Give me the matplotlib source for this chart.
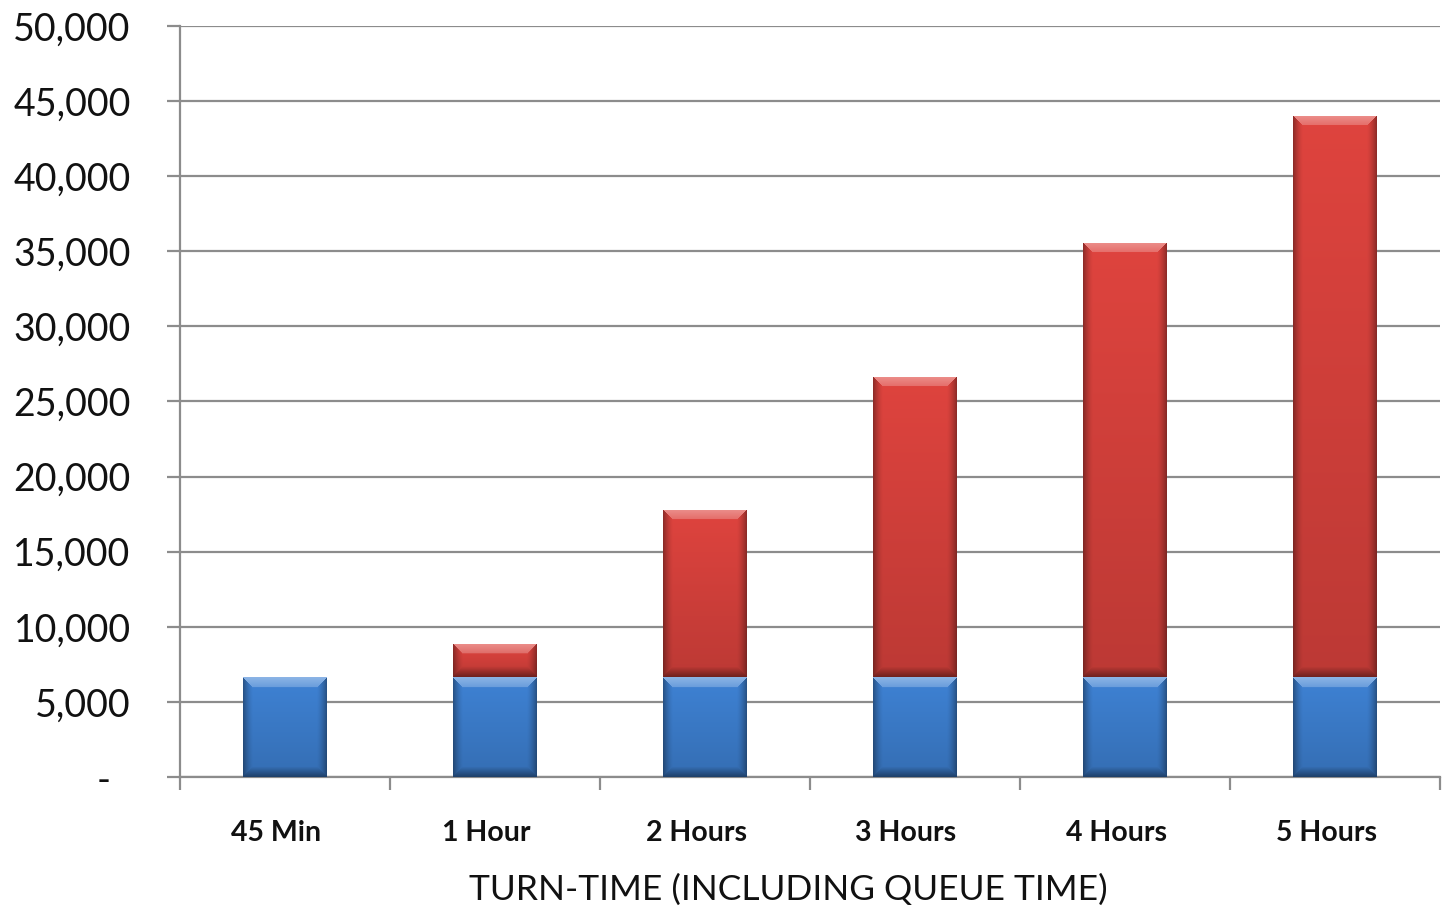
import numpy as np
import matplotlib
matplotlib.use("Agg")
import matplotlib.pyplot as plt
import matplotlib.transforms as mtransforms
from matplotlib.ticker import FixedLocator, FuncFormatter

# ── data ────────────────────────────────────────────────────────────────────
categories = ["45 Min", "1 Hour", "2 Hours", "3 Hours", "4 Hours", "5 Hours"]
base_units = [6650, 6650, 6650, 6650, 6650, 6650]
extra_units = [0, 2210, 11140, 20000, 28910, 37390]
y_ticks = [0, 5000, 10000, 15000, 20000, 25000, 30000, 35000, 40000, 45000, 50000]

BLUE = (0.235, 0.490, 0.800)
RED = (0.840, 0.255, 0.235)
GRID = "#8c8c8c"

plt.rcParams["font.family"] = ["Lato", "DejaVu Sans"]


def bevel_image(rgb, w_px, h_px, band=10):
    """RGB array shaded like an Excel bevel: light top edge, dark sides/bottom."""
    w_px, h_px = max(int(w_px), 2), max(int(h_px), 2)
    yy, xx = np.mgrid[0:h_px, 0:w_px].astype(float)
    d_top, d_bot = yy, h_px - 1 - yy
    d_side = np.minimum(xx, w_px - 1 - xx)
    base = np.array(rgb)
    # gentle vertical falloff, darker toward the bottom
    v = yy / max(h_px - 1, 1)
    img = np.clip(base[None, None, :] * (1.04 - 0.16 * v)[..., None], 0, 1)

    stack = np.stack([d_top, d_bot, d_side])
    nearest = np.argmin(stack, axis=0)
    dist = np.min(stack, axis=0)
    inband = dist < band
    t = 1 - dist / band  # 1 at the outer edge, 0 at the inner edge

    top = inband & (nearest == 0)
    img[top] = img[top] + (1 - img[top]) * (0.22 + 0.18 * t[top])[:, None]
    side = inband & (nearest == 2)
    img[side] = img[side] * (1 - 0.35 * t[side] ** 1.5)[:, None]
    bot = inband & (nearest == 1)
    img[bot] = img[bot] * (1 - 0.4 * t[bot])[:, None]
    return img


fig = plt.figure(figsize=(14.46, 9.08), dpi=100)
ax = fig.add_axes([180 / 1446, 131 / 908, 1260 / 1446, 751 / 908])

x = np.arange(len(categories))
xlim = (-0.5, len(categories) - 0.5)
ylim = (0, 50000)
ax.set_xlim(*xlim)
ax.set_ylim(*ylim)

bars_base = ax.bar(x, base_units, width=0.4, color=BLUE, zorder=2)
bars_extra = ax.bar(x, extra_units, width=0.4, bottom=base_units, color=RED, zorder=2)

px_per_x = 1260 / (xlim[1] - xlim[0])
px_per_y = 751 / (ylim[1] - ylim[0])

for group, rgb in ((bars_base, BLUE), (bars_extra, RED)):
    for rect in group:
        h = rect.get_height()
        if h <= 0:
            rect.set_visible(False)
            continue
        x0, y0, w = rect.get_x(), rect.get_y(), rect.get_width()
        img = bevel_image(rgb, w * px_per_x, h * px_per_y)
        im = ax.imshow(img, extent=(x0, x0 + w, y0, y0 + h), origin="upper",
                       aspect="auto", interpolation="bilinear", zorder=3)
        im.set_clip_path(rect)

ax.set_xlim(*xlim)
ax.set_ylim(*ylim)

# axes styling
ax.set_axisbelow(True)
ax.yaxis.grid(True, color=GRID, linewidth=1.6)
for side in ("top", "right"):
    ax.spines[side].set_visible(False)
for side in ("left", "bottom"):
    ax.spines[side].set_color(GRID)
    ax.spines[side].set_linewidth(1.6)

ax.set_yticks(y_ticks)
ax.yaxis.set_major_formatter(FuncFormatter(lambda v, _: f"{v:,.0f}" if v else "-  "))
ax.tick_params(axis="y", length=9.5, width=1.6, color=GRID, pad=26,
               labelsize=27, labelcolor="#111111")

ax.set_xticks(x)
ax.set_xticklabels(categories, fontweight="bold")
ax.xaxis.set_minor_locator(FixedLocator(np.arange(len(categories) + 1) - 0.5))
ax.tick_params(axis="x", which="major", length=0, pad=31, labelsize=20.5,
               labelcolor="#111111")
ax.tick_params(axis="x", which="minor", length=9.5, width=1.6, color=GRID)

shift = mtransforms.ScaledTranslation(-9 / 100, 0, fig.dpi_scale_trans)
for lbl in ax.get_xticklabels():
    lbl.set_transform(lbl.get_transform() + shift)

ax.set_xlabel("TURN-TIME (INCLUDING QUEUE TIME)", fontsize=25.5, color="#111111",
              labelpad=20)
ax.xaxis.label.set_x(0.4825)

fig.savefig("out.png", dpi=100, facecolor="white")
